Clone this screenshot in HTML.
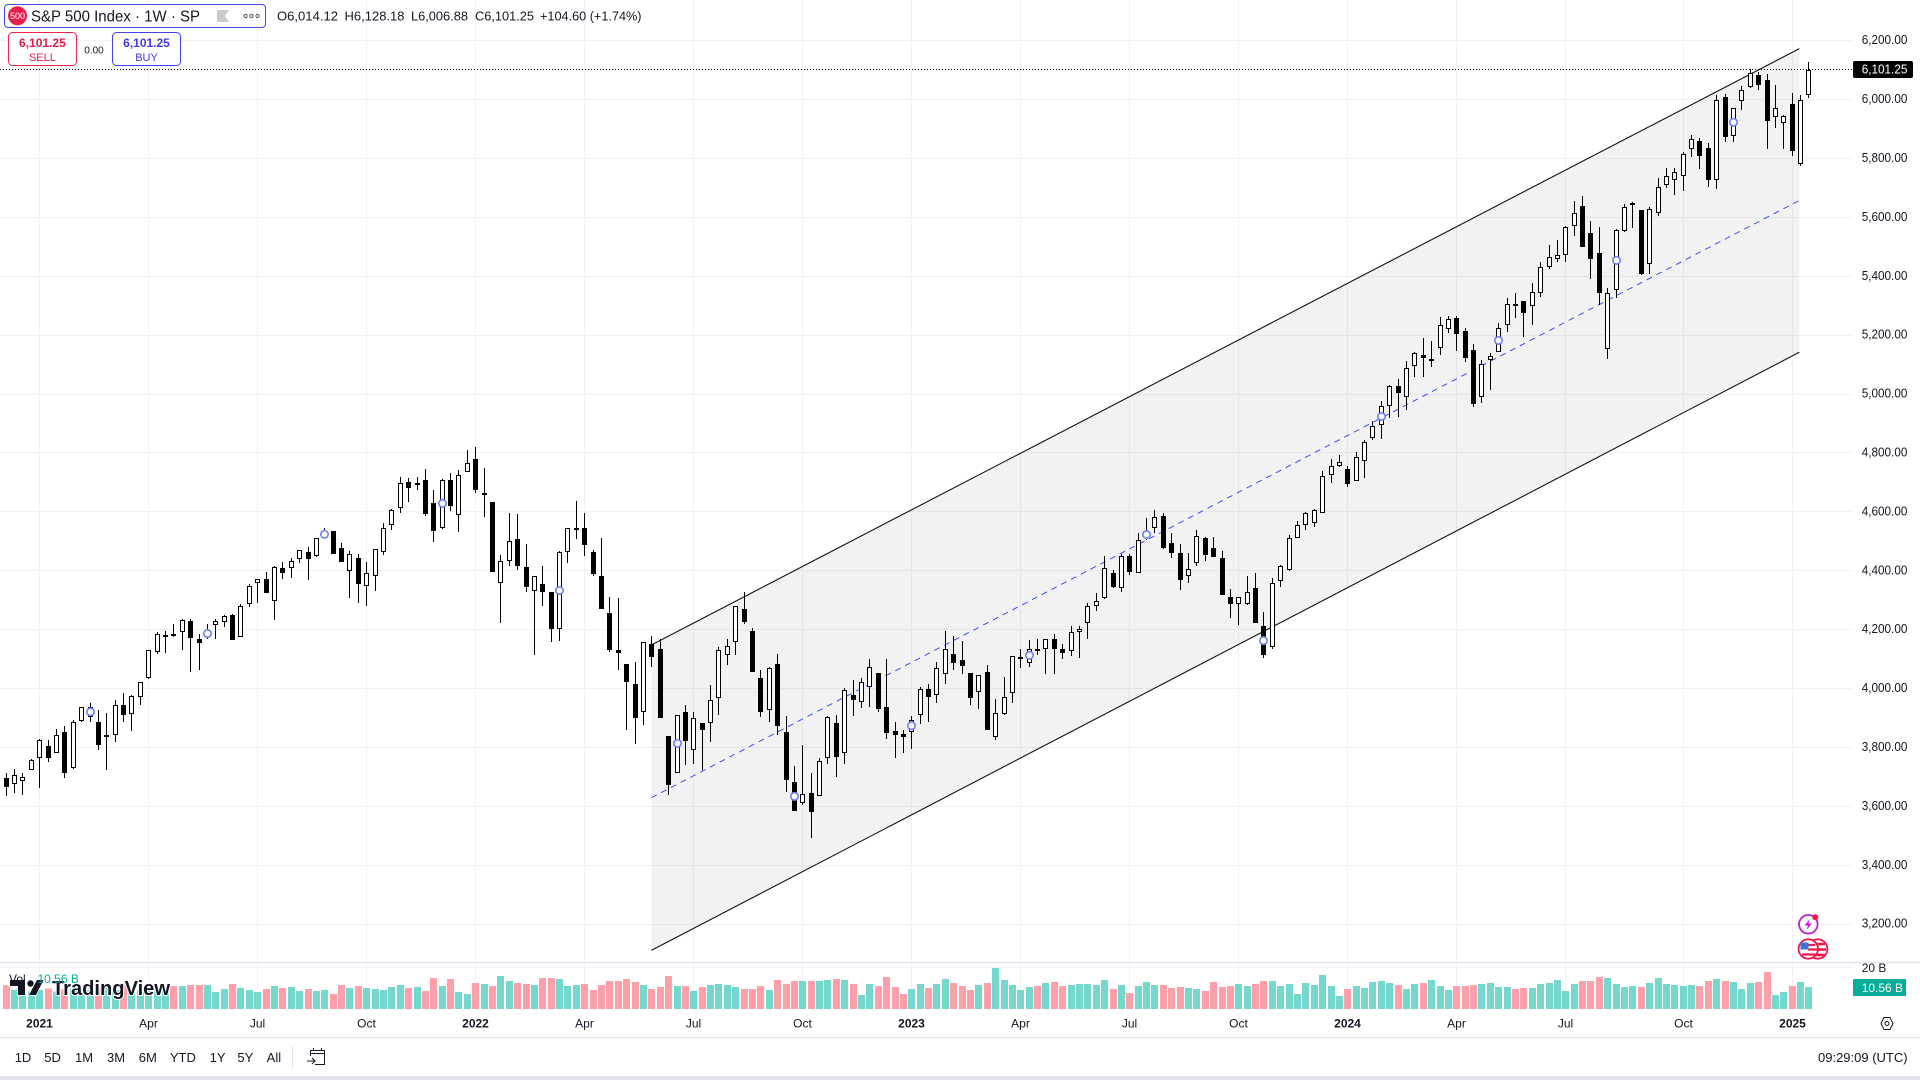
<!DOCTYPE html>
<html lang="en">
<head>
<meta charset="utf-8">
<title>S&amp;P 500 Index 1W chart</title>
<style>
html,body{margin:0;padding:0;background:#fff;width:1920px;height:1080px;overflow:hidden}
svg{display:block;font-family:"Liberation Sans",Arial,sans-serif;fill:#131722}
text{white-space:pre}
</style>
</head>
<body>
<svg id="chart" xmlns="http://www.w3.org/2000/svg" width="1920" height="1080" viewBox="0 0 1920 1080">
  <g id="grid-layer"></g>
  <g id="drawing-layer"></g>
  <g id="volume-layer"></g>
  <g id="candle-layer"></g>
  <g id="marker-layer"></g>
  <g id="axis-layer"></g>

  <g>
    <rect x="7" y="972" width="72" height="14" fill="#fff" fill-opacity="0.55"/>
    <g fill="#131722" stroke="#fff" stroke-width="1.5" paint-order="stroke">
      <path d="M10 980H25V995H18V986H10Z"/>
      <circle cx="30.5" cy="983.5" r="3.2"/>
      <path d="M37 980H43.5L36 995H29Z"/>
    </g>
    <text x="52" y="995" font-size="20" font-weight="700" stroke="#fff" stroke-width="2" paint-order="stroke" fill="#131722" textLength="118" lengthAdjust="spacingAndGlyphs">TradingView</text>
    <text x="9" y="983" font-size="12" fill="#131722">Vol</text>
    <text x="37.5" y="983" font-size="12" fill="#08ac9b">10.56 B</text>
  </g>

  <g>
    <rect x="4.5" y="4.5" width="261" height="23" rx="3.5" fill="#fff" stroke="#4340f0" stroke-width="1"/>
    <circle cx="17.5" cy="15.8" r="9.5" fill="#ec1c49"/>
    <text x="17.5" y="19" font-size="9" text-anchor="middle" fill="#fff">500</text>
    <text x="31" y="21.5" font-size="16" textLength="169" lengthAdjust="spacingAndGlyphs">S&amp;P 500 Index · 1W · SP</text>
    <path d="M217 10H229L225 16L229 22H217Z" fill="#c9c9cc"/>
    <g fill="none" stroke="#555" stroke-width="1">
      <circle cx="245.5" cy="16" r="1.6"/><circle cx="251.5" cy="16" r="1.6"/><circle cx="257.5" cy="16" r="1.6"/>
    </g>
    <text x="277" y="20.5" font-size="12.8" textLength="61" lengthAdjust="spacingAndGlyphs">O6,014.12</text>
    <text x="344.5" y="20.5" font-size="12.8" textLength="60" lengthAdjust="spacingAndGlyphs">H6,128.18</text>
    <text x="411" y="20.5" font-size="12.8" textLength="57" lengthAdjust="spacingAndGlyphs">L6,006.88</text>
    <text x="475" y="20.5" font-size="12.8" textLength="59" lengthAdjust="spacingAndGlyphs">C6,101.25</text>
    <text x="540" y="20.5" font-size="12.8" textLength="101.5" lengthAdjust="spacingAndGlyphs">+104.60 (+1.74%)</text>

    <g>
      <rect x="8.5" y="32.5" width="68" height="33" rx="4" fill="#fff" stroke="#f0264f" stroke-width="1"/>
      <text x="42.4" y="47" font-size="12" font-weight="700" text-anchor="middle" fill="#e8194a">6,101.25</text>
      <text x="42.4" y="61" font-size="11" text-anchor="middle" fill="#e8194a">SELL</text>
    </g>
    <text x="94" y="53.5" font-size="10" text-anchor="middle">0.00</text>
    <g>
      <rect x="112.5" y="32.5" width="68" height="33" rx="4" fill="#fff" stroke="#4340f0" stroke-width="1"/>
      <text x="146.5" y="47" font-size="12" font-weight="700" text-anchor="middle" fill="#3f38f0">6,101.25</text>
      <text x="146.5" y="61" font-size="11" text-anchor="middle" fill="#3f38f0">BUY</text>
    </g>
  </g>

  <g>
    <g>
      <circle cx="1808.3" cy="924.3" r="9.3" fill="#fff" stroke="#c21fd0" stroke-width="1.8"/>
      <path d="M1810 919L1804.5 925.5H1808L1806.5 930L1812 923.5H1808.5Z" fill="#c21fd0"/>
      <circle cx="1815.3" cy="917.3" r="3" fill="#f0184a"/>
    </g>
    <g>
      <circle cx="1817.7" cy="949" r="9.7" fill="#fff" stroke="#f0184a" stroke-width="1.8"/>
      <path d="M1812 944H1825M1810 949.500H1826M1812 955H1825" stroke="#f0184a" stroke-width="2.4" fill="none"/>
      <circle cx="1808.3" cy="949" r="9.7" fill="#fff" stroke="#f0184a" stroke-width="1.8"/>
      <path d="M1808 949.500H1817M1808 945H1815M1802 954.500H1815" stroke="#f0184a" stroke-width="2.2" fill="none"/>
      <rect x="1800.500" y="942.500" width="8" height="7" fill="#3e74d8"/>
    </g>
  </g>

  <g>
    <line x1="0" x2="1920" y1="1037.500" y2="1037.500" stroke="#e0e3eb"/>
    <text x="23" y="1062" font-size="13" text-anchor="middle">1D</text>
    <text x="52.600" y="1062" font-size="13" text-anchor="middle">5D</text>
    <text x="84" y="1062" font-size="13" text-anchor="middle">1M</text>
    <text x="116" y="1062" font-size="13" text-anchor="middle">3M</text>
    <text x="147.800" y="1062" font-size="13" text-anchor="middle">6M</text>
    <text x="182.900" y="1062" font-size="13" text-anchor="middle">YTD</text>
    <text x="217.600" y="1062" font-size="13" text-anchor="middle">1Y</text>
    <text x="245.300" y="1062" font-size="13" text-anchor="middle">5Y</text>
    <text x="273.900" y="1062" font-size="13" text-anchor="middle">All</text>
    <line x1="292.500" x2="292.500" y1="1046" y2="1068" stroke="#e0e3eb"/>
    <g fill="none" stroke="#131722" stroke-width="1">
      <path d="M310.500 1056V1050.500H324.500V1064.500H315"/>
      <path d="M310.500 1053.500H324.500M313.500 1048V1051M321.500 1048V1051"/>
      <path d="M307 1061H315M312 1058L315 1061L312 1064"/>
    </g>
    <text x="1818" y="1062" font-size="13">09:29:09 (UTC)</text>
    <g fill="none" stroke="#131722" stroke-width="1">
      <path d="M1881 1023.500L1884 1017.500H1890L1893 1023.500L1890 1029.500H1884Z"/>
      <circle cx="1887" cy="1023.500" r="2"/>
    </g>
    <rect x="0" y="1076" width="1920" height="4" fill="#e0e3eb"/>
  </g>
</svg>

<script>
const opens = [
3695,3675,3685,3722,3763,3804,3780,3851,3731,3891,
3904,3885,3841,3844,3943,3915,3970,4035,4123,4180,
4185,4191,4228,4170,4174,4215,4227,4249,4174,4286,
4357,4371,4296,4408,4408,4439,4463,4449,4513,4535,
4476,4401,4442,4347,4384,4463,4554,4612,4700,4690,
4710,4629,4547,4710,4588,4734,4778,4656,4633,4357,
4432,4507,4412,4333,4354,4327,4201,4463,4541,4547,
4463,4384,4257,4131,4083,4014,3919,4150,4133,3839,
3715,3919,3793,3882,3882,3967,4113,4157,4270,4195,
4035,3929,4082,3851,3682,3610,3647,3637,3763,3882,
3780,3977,3956,4004,4052,3939,3855,3846,3851,3909,
3997,3977,4048,4119,4096,4052,3990,4055,3834,3915,
3984,4105,4086,4136,4133,4167,4136,4126,4191,4223,
4281,4308,4394,4342,4449,4394,4510,4544,4585,4493,
4459,4381,4425,4510,4479,4445,4310,4286,4288,4343,
4211,4140,4364,4403,4510,4554,4564,4595,4724,4757,
4744,4704,4772,4852,4894,4958,5026,4989,5094,5132,
5111,5155,5220,5257,5213,5149,4989,5115,5142,5233,
5306,5315,5298,5342,5432,5460,5471,5572,5639,5546,
5478,5152,5352,5555,5641,5624,5441,5614,5711,5726,
5739,5831,5858,5834,5726,6008,5875,5994,6042,6082,
6065,5940,5919,5984,5782,6014.12];

const highs = [
3712,3726,3712,3760,3828,3825,3863,3873,3895,3937,
3951,3929,3916,3961,3985,3977,4021,4130,4192,4194,
4219,4238,4235,4187,4218,4235,4249,4255,4286,4354,
4371,4395,4415,4429,4442,4469,4480,4512,4544,4535,
4493,4466,4456,4429,4475,4561,4609,4717,4714,4718,
4744,4673,4712,4731,4741,4810,4819,4749,4633,4452,
4595,4593,4490,4384,4416,4327,4466,4547,4637,4595,
4469,4513,4310,4306,4083,4089,4157,4178,4167,3839,
3912,3946,3920,3883,4011,4140,4167,4279,4327,4205,
4062,4075,4119,3907,3736,3808,3712,3763,3907,3912,
4001,4028,4035,4099,4052,4099,3888,3858,3907,4004,
4014,4092,4194,4177,4160,4052,4046,4079,3963,4039,
4109,4134,4165,4170,4170,4187,4153,4212,4212,4289,
4323,4450,4402,4457,4457,4528,4578,4608,4595,4527,
4490,4459,4540,4514,4514,4467,4337,4310,4384,4394,
4259,4374,4418,4520,4568,4598,4610,4739,4778,4792,
4755,4803,4843,4907,4975,5030,5050,5111,5142,5189,
5179,5261,5264,5264,5223,5169,5115,5138,5240,5325,
5342,5315,5376,5447,5505,5523,5570,5655,5673,5587,
5566,5359,5559,5644,5651,5625,5637,5733,5767,5767,
5821,5879,5868,5851,6016,6019,5973,6046,6103,6093,
6086,6048,5949,6021,6014,6128.18];

const lows = [
3636,3646,3640,3722,3662,3752,3780,3696,3728,3887,
3886,3791,3723,3818,3886,3857,3944,4034,4117,4122,
4175,4131,4057,4064,4170,4168,4210,4166,4174,4278,
4292,4326,4233,4373,4375,4427,4369,4448,4510,4458,
4431,4309,4292,4281,4332,4452,4540,4597,4635,4675,
4587,4499,4543,4604,4533,4734,4665,4584,4397,4224,
4417,4404,4329,4115,4281,4159,4163,4427,4509,4451,
4383,4271,4125,4064,3860,3813,3877,4074,3901,3639,
3715,3740,3744,3723,3819,3911,4080,4115,4220,4057,
3904,3887,3841,3650,3585,3605,3493,3637,3745,3701,
3745,3908,3935,3938,3921,3830,3765,3782,3796,3881,
3887,3952,4016,4064,4050,3945,3931,3861,3827,3911,
3952,4071,4074,4114,4050,4050,4101,4112,4105,4169,
4264,4305,4342,4329,4385,4394,4506,4529,4475,4444,
4336,4359,4416,4434,4448,4319,4240,4217,4285,4223,
4105,4136,4346,4398,4510,4539,4550,4595,4699,4753,
4686,4704,4715,4845,4847,4920,4923,4947,5059,5059,
5093,5134,5206,5147,5110,4957,4971,5015,5142,5212,
5259,5195,5236,5331,5424,5450,5448,5536,5501,5392,
5302,5120,5327,5551,5565,5405,5408,5606,5701,5677,
5691,5806,5765,5704,5697,5857,5857,5966,6038,6034,
5833,5905,5833,5810,5776,6006.88];

const closes = [
3665,3708,3701,3756,3824,3765,3841,3714,3885,3936,
3936,3809,3843,3943,3911,3974,4021,4130,4184,4182,
4178,4232,4173,4156,4199,4228,4247,4166,4279,4350,
4371,4326,4412,4393,4434,4469,4441,4510,4533,4458,
4431,4456,4356,4391,4473,4544,4605,4697,4682,4697,
4594,4536,4710,4621,4724,4765,4675,4663,4397,4432,
4500,4417,4346,4384,4329,4203,4463,4544,4547,4489,
4390,4271,4132,4122,4023,3901,4157,4108,3901,3673,
3912,3823,3899,3860,3960,4130,4143,4279,4226,4057,
3921,4069,3872,3690,3585,3641,3582,3753,3902,3769,
3994,3962,4024,4072,3932,3850,3843,3836,3895,3997,
3972,4069,4136,4088,4078,3969,4045,3861,3916,3970,
4109,4108,4136,4131,4170,4136,4122,4191,4204,4282,
4299,4408,4346,4449,4397,4506,4533,4581,4477,4461,
4370,4405,4517,4454,4448,4319,4288,4310,4327,4223,
4115,4357,4415,4513,4557,4595,4606,4721,4755,4768,
4696,4785,4839,4890,4958,5026,5005,5087,5138,5124,
5118,5233,5254,5203,5124,4967,5101,5128,5223,5305,
5304,5276,5346,5430,5464,5473,5567,5615,5501,5460,
5344,5344,5556,5634,5648,5408,5627,5702,5739,5753,
5814,5865,5807,5728,5998,5872,5970,6031,6089,6051,
5928,5970,5943,5827,5998,6101.25];

const volumes = [
11.6,9.1,9.1,8.4,9.2,10.0,8.4,9.5,10.0,9.2,
8.8,10.4,12.4,9.2,11.6,9.2,9.2,9.2,9.2,10.8,
11.1,11.2,11.6,11.6,11.6,8.2,9.6,12.0,10.1,9.2,
8.2,9.6,11.1,10.1,10.6,8.7,9.6,8.7,9.2,7.2,
11.6,10.1,11.1,10.1,9.6,9.2,10.6,11.6,10.1,10.6,
8.7,14.9,11.1,14.5,8.2,7.2,12.5,12.0,11.1,15.9,
13.5,12.5,12.0,11.6,14.9,14.9,14.5,11.1,11.6,12.0,
9.2,11.6,13.5,13.5,14.5,13.0,11.6,9.6,10.6,15.9,
11.1,11.1,8.7,10.6,11.6,12.0,11.6,10.6,9.6,9.6,
11.1,9.2,14.0,12.0,13.5,13.5,13.5,13.5,14.0,14.5,
14.0,12.0,6.7,12.0,11.1,15.4,10.6,7.2,9.6,12.0,
10.1,12.0,14.5,12.5,11.1,9.2,11.6,12.5,19.8,14.0,
11.6,9.2,10.6,11.1,12.5,13.0,11.1,11.6,12.0,12.0,
11.6,14.0,9.6,11.6,7.7,11.1,13.0,11.6,11.6,10.1,
10.6,10.1,9.6,8.7,13.0,10.6,11.1,12.0,11.1,12.0,
13.5,13.5,11.1,12.0,7.2,12.5,11.6,16.4,11.1,6.3,
9.6,11.1,10.1,13.0,13.5,12.5,11.6,9.6,12.0,12.5,
14.0,11.1,9.2,11.1,11.1,11.6,12.0,12.5,10.6,10.6,
9.6,10.1,10.1,12.0,12.5,14.0,8.7,12.0,13.5,13.5,
15.4,14.9,12.0,10.6,11.1,10.6,12.5,14.9,12.0,11.6,
11.1,11.6,11.1,13.5,14.5,13.5,13.0,9.6,12.5,13.0,
17.8,6.7,8.2,11.1,13.0,10.56];

const markerBars = [10,24,38,52,66,80,94,108,122,136,150,164,178,192,206];
const markerPrices = [3921,4187,4524,4629,4333,3814,3634,3874,4113,4523,4163,4924,5182,5454,5923];

const priceTicks = [3200,3400,3600,3800,4000,4200,4400,4600,4800,5000,5200,5400,5600,5800,6000,6200];
const timeTickBars = [4,17,30,43,56,69,82,95,108,121,134,147,160,173,186,200,213];
const timeTickLabels = ['2021','Apr','Jul','Oct','2022','Apr','Jul','Oct','2023','Apr','Jul','Oct','2024','Apr','Jul','Oct','2025'];

const channelBars = [76.94,213.85];
const channelUpper = [4148,6173];
const channelLower = [3111,5142];

const volumeTick = 20;

const barX = i => 6.2 + 8.385 * i;
const priceY = p => 40.7 + (6200 - p) * 0.2945;
const volY = v => 1009 - v * 2.075;

const NS = 'http://www.w3.org/2000/svg';
function make(tag, attrs, parent, text) {
  const n = document.createElementNS(NS, tag);
  for (const k in attrs) n.setAttribute(k, attrs[k]);
  if (text !== undefined) n.textContent = text;
  parent.appendChild(n);
  return n;
}
const gridLayer = document.getElementById('grid-layer');
const drawingLayer = document.getElementById('drawing-layer');
const volumeLayer = document.getElementById('volume-layer');
const candleLayer = document.getElementById('candle-layer');
const markerLayer = document.getElementById('marker-layer');
const axisLayer = document.getElementById('axis-layer');
const GRID = '#f1f2f5';
const AXIS_X = 1852;
const fmtPrice = p => p.toLocaleString('en-US', {minimumFractionDigits: 2, maximumFractionDigits: 2});

/* vertical grid + time axis */
timeTickBars.forEach((bar, k) => {
  const x = Math.floor(barX(bar)) + 0.5;
  const line = make('line', {x1: x, x2: x, y1: 0, y2: 1009, stroke: GRID}, gridLayer);
  
  
  const label = timeTickLabels[k];
  const isYear = /^\d{4}$/.test(label);
  const t = make('text', {x: x, y: 1027.5, 'font-size': 12, 'text-anchor': 'middle', 'font-weight': isYear ? 700 : 400}, axisLayer, label);
  
  
});

/* horizontal grid + price axis */
priceTicks.forEach(p => {
  const y = Math.floor(priceY(p)) + 0.5;
  const line = make('line', {x1: 0, x2: AXIS_X, y1: y, y2: y, stroke: GRID}, gridLayer);
  
  
  const t = make('text', {x: 1861.7, y: priceY(p) + 3.5, 'font-size': 12.8, textLength: 45.7, lengthAdjust: 'spacingAndGlyphs'}, axisLayer, fmtPrice(p));
  
  
});

/* channel drawing */
const chX0 = barX(channelBars[0]), chX1 = barX(channelBars[1]);
const channelFill = make('polygon', {
  points: [[chX0, priceY(channelUpper[0])], [chX1, priceY(channelUpper[1])], [chX1, priceY(channelLower[1])], [chX0, priceY(channelLower[0])]].map(a => a.join(',')).join(' '),
  fill: '#000', 'fill-opacity': 0.05
}, drawingLayer);



const upperLine = make('line', {x1: chX0, y1: priceY(channelUpper[0]), x2: chX1, y2: priceY(channelUpper[1]), stroke: '#131313', 'stroke-width': 1.1}, drawingLayer);



const lowerLine = make('line', {x1: chX0, y1: priceY(channelLower[0]), x2: chX1, y2: priceY(channelLower[1]), stroke: '#131313', 'stroke-width': 1.1}, drawingLayer);



const midLine = make('line', {
  x1: chX0, y1: priceY((channelUpper[0] + channelLower[0]) / 2),
  x2: chX1, y2: priceY((channelUpper[1] + channelLower[1]) / 2),
  stroke: '#3f4ff5', 'stroke-width': 1, 'stroke-dasharray': '6 5'
}, drawingLayer);



/* volume pane */
const volSep = make('line', {x1: 0, x2: 1920, y1: 962.5, y2: 962.5, stroke: '#e0e3eb', 'stroke-width': 1.5}, volumeLayer);



const volGridY = Math.floor(volY(volumeTick)) + 0.5;
const volGrid = make('line', {x1: 0, x2: AXIS_X, y1: volGridY, y2: volGridY, stroke: GRID}, volumeLayer);



const volTick = make('text', {x: 1861.7, y: volY(volumeTick) + 4.3, 'font-size': 12}, axisLayer, volumeTick + ' B');



volumes.forEach((v, i) => {
  const up = closes[i] >= opens[i];
  const top = volY(v);
  const bar = make('rect', {
    x: Math.floor(barX(i)) - 3, y: top, width: 7, height: 1009 - top,
    fill: up ? '#74d8cc' : '#ff9fa9', 'shape-rendering': 'crispEdges'
  }, volumeLayer);
  
  
});

/* candles */
closes.forEach((c, i) => {
  const col = Math.floor(barX(i));
  const up = c >= opens[i];
  const wick = make('rect', {
    x: col, y: Math.round(priceY(highs[i])), width: 1,
    height: Math.max(1, Math.round(priceY(lows[i])) - Math.round(priceY(highs[i]))),
    fill: '#000', 'shape-rendering': 'crispEdges'
  }, candleLayer);
  
  

  const top = Math.round(priceY(Math.max(opens[i], c)));
  const bottom = Math.round(priceY(Math.min(opens[i], c)));
  const h = Math.max(2, bottom - top);
  const body = make('rect', {
    x: col - 2, y: top, width: 5, height: h,
    fill: '#000', 'shape-rendering': 'crispEdges'
  }, candleLayer);
  
  

  if (up && h > 2) {
    const inner = make('rect', {
      x: col - 1, y: top + 1, width: 3, height: h - 2,
      fill: '#fff', 'shape-rendering': 'crispEdges'
    }, candleLayer);
    
    
  }
});

/* event markers */
markerBars.forEach((bar, k) => {
  const m = make('circle', {
    cx: Math.floor(barX(bar)) + 0.5, cy: priceY(markerPrices[k]), r: 3.7,
    fill: '#fff', stroke: '#7583fb', 'stroke-width': 1.7
  }, markerLayer);
  
  
});

/* last price line and labels */
const lastClose = closes[closes.length - 1];
const lastY = Math.floor(priceY(lastClose)) + 0.5;
const lastLine = make('line', {x1: 0, x2: AXIS_X, y1: lastY, y2: lastY, stroke: '#000', 'stroke-width': 1, 'stroke-dasharray': '1 2'}, axisLayer);



const lastBox = make('rect', {x: 1853, y: lastY - 8.5, width: 60, height: 17, rx: 2, fill: '#000'}, axisLayer);



const lastText = make('text', {x: 1861.7, y: lastY + 3.8, 'font-size': 12.8, fill: '#fff', textLength: 45.7, lengthAdjust: 'spacingAndGlyphs'}, axisLayer, fmtPrice(lastClose));



const lastVol = volumes[volumes.length - 1];
const volBox = make('rect', {x: 1853, y: 979, width: 53, height: 17, rx: 1, fill: '#08ac9b'}, axisLayer);



const volText = make('text', {x: 1861.7, y: 992, 'font-size': 12, fill: '#fff'}, axisLayer, lastVol.toFixed(2) + ' B');


</script>
</body>
</html>
